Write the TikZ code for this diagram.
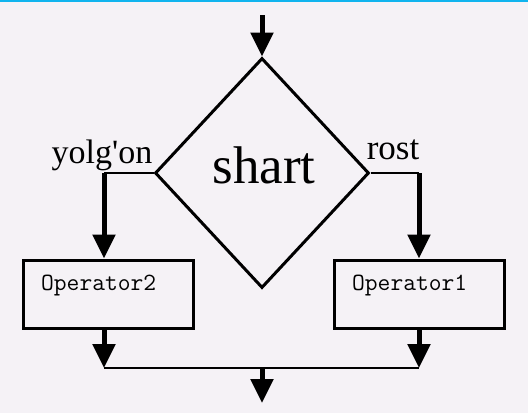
\documentclass[tikz,border=0pt]{standalone}
\usepackage{fontspec}
\newfontfamily\labfont{Liberation Serif}
\usetikzlibrary{shapes.geometric,arrows.meta}
\definecolor{bgc}{HTML}{F5F2F6}
\definecolor{topc}{HTML}{10B4EE}
\tikzset{
  arr/.style={line width=5pt,-{Triangle[width=22pt,length=24pt]}},
  conn/.style={line width=2pt},
  opbox/.style={draw,line width=3pt,rectangle,minimum width=170pt,minimum height=68pt,inner sep=0pt},
  optext/.style={font=\ttfamily\fontsize{24.8}{28}\selectfont,anchor=base west,inner sep=0pt},
  lab/.style={font=\labfont\fontsize{34}{38}\selectfont,anchor=base,inner sep=0pt}
}
\begin{document}
\begin{tikzpicture}[x=1pt,y=-1pt]
\useasboundingbox (0,0) rectangle (528,413);
\fill[bgc] (0,0) rectangle (528,413);
\fill[topc] (0,0) rectangle (528,2);
% decision
\node[diamond,draw,line width=3pt,minimum width=214pt,minimum height=230pt,inner sep=0pt] (cond) at (262,173) {};
\node[font=\labfont\fontsize{53}{56}\selectfont,anchor=base,inner sep=0pt] (condtxt) at (264,183) {shart};
% boxes
\node[opbox] (box2) at (108,294) {};
\node[optext] (box2txt) at (41,290) {Operator2};
\node[opbox] (box1) at (419.5,294) {};
\node[optext] (box1txt) at (352,290.5) {Operator1};
% labels
\node[lab] (no) at (102,163) {yolg'on};
\node[lab,font=\labfont\fontsize{35}{38}\selectfont] (yes) at (393,159) {rost};
% coordinates
\coordinate (in) at (262,15);
\coordinate (lc) at (104,173);
\coordinate (rc) at (419,173);
\coordinate (jl) at (104,368);
\coordinate (jr) at (419,368);
\coordinate (jm) at (262,368);
\coordinate (out) at (262,403);
% connectors
\draw[arr] (in) -- (cond.north);
\draw[conn] (cond.west) -- (lc);
\draw[arr] (lc) -- (lc |- box2.north);
\draw[conn] (cond.east) -- (rc);
\draw[arr] (rc) -- (rc |- box1.north);
\draw[arr] (jl |- box2.south) -- (jl);
\draw[arr] (jr |- box1.south) -- (jr);
\draw[conn] (jl) -- (jr);
\draw[arr] (jm) -- (out);
\end{tikzpicture}
\end{document}
